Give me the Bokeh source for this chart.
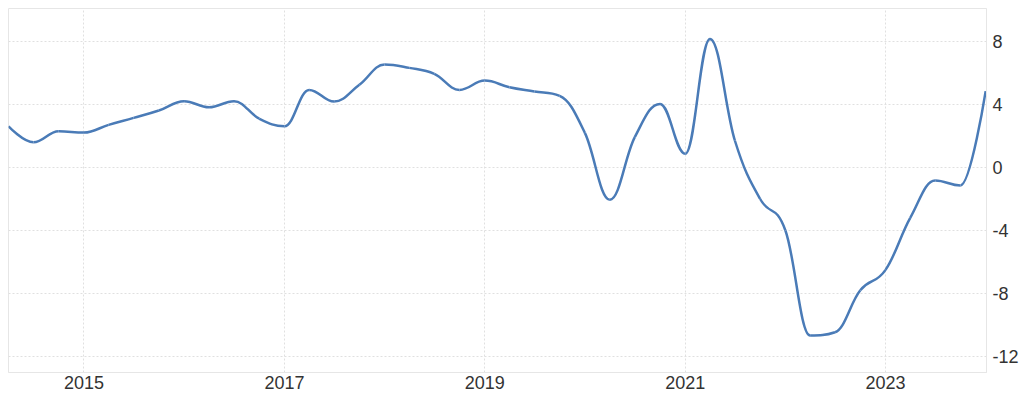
import pandas as pd
from bokeh.plotting import figure
from bokeh.models import FixedTicker, Range1d, CustomJSTickFormatter
from bokeh.embed import file_html
from bokeh.resources import INLINE

dates = pd.date_range("2014-04-01", "2024-01-01", freq="QS").strftime("%Y-%m-%d").tolist()
values = [2.62, 1.6, 2.3, 2.22, 2.71, 3.15, 3.62, 4.21, 3.83, 4.21,
          3.1, 2.62, 4.93, 4.19, 5.25, 6.55, 6.33, 5.95, 4.93, 5.52,
          5.1, 4.83, 4.55, 2.2, -2.05, 1.93, 4.04, 0.87, 8.17, 1.7,
          -2.0, -4.0, -10.67, -10.46, -7.8, -6.5, -3.2, -0.83, -1.14, 4.85]
x_tick_years = [2015, 2017, 2019, 2021, 2023]
y_ticks = [-12, -8, -4, 0, 4, 8]

def ms(d):
    return pd.Timestamp(d).value / 1e6

xs = [ms(d) for d in dates]
ys = values

# Highcharts-style spline control points (rendering of the line through the data)
smoothing = 1.5
denom = smoothing + 1
n = len(xs)
lc = [(xs[i], ys[i]) for i in range(n)]
rc = [(xs[i], ys[i]) for i in range(n)]
for i in range(1, n - 1):
    px, py = xs[i], ys[i]
    lx, ly = xs[i - 1], ys[i - 1]
    nx, ny = xs[i + 1], ys[i + 1]
    lcx = (smoothing * px + lx) / denom
    lcy = (smoothing * py + ly) / denom
    rcx = (smoothing * px + nx) / denom
    rcy = (smoothing * py + ny) / denom
    corr = 0
    if rcx != lcx:
        corr = ((rcy - lcy) * (rcx - px)) / (rcx - lcx) + py - rcy
    lcy += corr
    rcy += corr
    if lcy > ly and lcy > py:
        lcy = max(ly, py); rcy = 2 * py - lcy
    elif lcy < ly and lcy < py:
        lcy = min(ly, py); rcy = 2 * py - lcy
    if rcy > ny and rcy > py:
        rcy = max(ny, py); lcy = 2 * py - rcy
    elif rcy < ny and rcy < py:
        rcy = min(ny, py); lcy = 2 * py - rcy
    lc[i] = (lcx, lcy)
    rc[i] = (rcx, rcy)

p = figure(width=1024, height=396, output_backend="svg", toolbar_location=None,
           x_axis_type="datetime", y_axis_location="right",
           min_border_left=8, min_border_top=8, min_border_bottom=24, min_border_right=38)

p.x_range = Range1d(xs[0], xs[-1] + 3 * 86400000)
p.y_range = Range1d(-13.02, 10.1)

p.bezier(x0=xs[:-1], y0=ys[:-1], x1=xs[1:], y1=ys[1:],
         cx0=[c[0] for c in rc[:-1]], cy0=[c[1] for c in rc[:-1]],
         cx1=[c[0] for c in lc[1:]], cy1=[c[1] for c in lc[1:]],
         line_color="#4a7bb7", line_width=2.5)

p.background_fill_color = "white"
p.border_fill_color = "white"
p.outline_line_color = "#e6e6e6"

p.xaxis.ticker = FixedTicker(ticks=[ms(f"{y}-01-01") for y in x_tick_years])
p.xaxis.formatter = CustomJSTickFormatter(code="return String(new Date(tick).getUTCFullYear());")
p.yaxis.ticker = FixedTicker(ticks=y_ticks)
p.yaxis.formatter = CustomJSTickFormatter(code="return String(Math.round(tick));")

for ax in (p.xaxis[0], p.yaxis[0]):
    ax.axis_line_color = "#e6e6e6"
    ax.major_tick_line_color = None
    ax.minor_tick_line_color = None
    ax.major_tick_out = 0
    ax.major_tick_in = 0
    ax.major_label_text_font = "Liberation Sans"
    ax.major_label_text_font_size = "18px"
    ax.major_label_text_color = "#333333"
p.xaxis.major_label_standoff = 3
p.yaxis.major_label_standoff = 6

for g in (p.xgrid[0], p.ygrid[0]):
    g.grid_line_color = "#e0e0e0"
    g.grid_line_dash = "2 2"
    g.grid_line_width = 1
p.xgrid.ticker = p.xaxis[0].ticker
p.ygrid.ticker = p.yaxis[0].ticker

open("out.html", "w").write(file_html(p, INLINE))
